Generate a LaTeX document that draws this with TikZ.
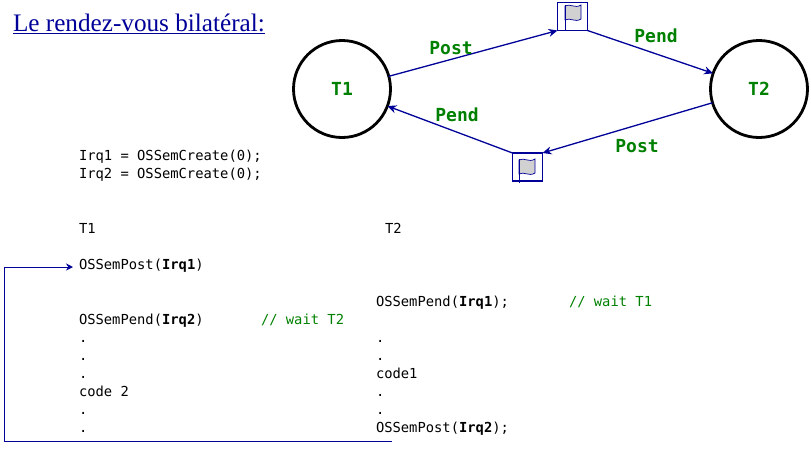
\documentclass[tikz,border=0pt]{standalone}
\usepackage{fontspec}
\setmainfont{Liberation Serif}
\setmonofont{DejaVu Sans Mono}
\usetikzlibrary{arrows.meta}
\definecolor{lnblue}{RGB}{0,0,153}
\definecolor{lblgreen}{RGB}{0,128,0}
\tikzset{
  x=1pt,y=-1pt,
  every node/.style={inner sep=0pt,outer sep=0pt},
  task/.style={circle,draw=black,line width=2.8pt,minimum size=97pt,font=\fontsize{18}{18}\ttfamily\bfseries,text=lblgreen},
  flagbox/.style={rectangle,draw=lnblue,line width=1.2pt,minimum width=30pt,minimum height=28pt},
  link/.style={draw=lnblue,line width=1.3pt,-{Stealth[length=9pt,width=8pt]}},
  plainlink/.style={draw=lnblue,line width=0.9pt},
  edgelbl/.style={font=\fontsize{18}{18}\ttfamily\bfseries,text=lblgreen},
  code/.style={anchor=base west,font=\fontsize{13.8}{14}\ttfamily,text=black},
  cmt/.style={anchor=base west,font=\fontsize{13.8}{14}\ttfamily,text=lblgreen},
  flagshape/.style={draw=lnblue,line width=0.7pt,fill=black!18},
  pole/.style={draw=lnblue,line width=1pt}
}
\newcommand{\flagat}[2]{%
  \draw[flagshape] (#1,#2+1)
    .. controls (#1+5,#2-2) and (#1+10,#2+4) .. (#1+16,#2)
    -- (#1+16,#2+14)
    .. controls (#1+10,#2+18) and (#1+5,#2+12) .. (#1,#2+15) -- cycle;
}
\begin{document}
\begin{tikzpicture}
\useasboundingbox (0,0) rectangle (811,464);
\node[anchor=base west,font=\fontsize{25.2}{25}\selectfont,text=lnblue] (title) at (13,31) {\underline{Le rendez-vous bilatéral:}};

\node[task] (T1) at (342,89) {T1};
\node[task] (T2) at (759,89) {T2};
\node[flagbox] (F1) at (572.5,16.5) {};
\node[flagbox] (F2) at (527.5,167) {};
\flagat{565}{5}
\draw[pole] (565,5) -- (565,30);
\flagat{519}{159}
\draw[pole] (519,159) -- (519,183);

\draw[link] (T1) -- (F1.south west);
\draw[link] (F1.south east) -- (T2);
\draw[link] (T2) -- (F2.north east);
\draw[link] (F2.north west) -- (T1);

\node[edgelbl] (lb1) at (451,48) {Post};
\node[edgelbl] (lb2) at (656,36) {Pend};
\node[edgelbl] (lb3) at (457,115) {Pend};
\node[edgelbl] (lb4) at (637,146) {Post};

\node[code] (c1) at (79,160) {Irq1 = OSSemCreate(0);};
\node[code] (c2) at (79,178) {Irq2 = OSSemCreate(0);};
\node[code] (t1) at (79,233) {T1};
\node[code] (t2) at (385,233) {T2};

\node[code] (p1) at (79,269) {OSSemPost(\textbf{Irq1})};
\node[code] (p2) at (79,324) {OSSemPend(\textbf{Irq2})};
\node[cmt] (cm1) at (261,324) {// wait T2};
\node[code] (d1) at (79,342) {.};
\node[code] (d2) at (79,360) {.};
\node[code] (d3) at (79,378) {.};
\node[code] (code2) at (79,396) {code 2};
\node[code] (d4) at (79,414) {.};
\node[code] (d5) at (79,432) {.};

\node[code] (q1) at (376,306) {OSSemPend(\textbf{Irq1});};
\node[cmt] (cm2) at (569,306) {// wait T1};
\node[code] (e1) at (376,342) {.};
\node[code] (e2) at (376,360) {.};
\node[code] (code1) at (376,378) {code1};
\node[code] (e3) at (376,396) {.};
\node[code] (e4) at (376,414) {.};
\node[code] (q2) at (376,432) {OSSemPost(\textbf{Irq2});};

\coordinate (fbstart) at (392,441);
\coordinate (fbcorner) at (4,441);
\coordinate (fbtop) at (4,267);
\coordinate (fbend) at (73,267);
\draw[plainlink,-{Stealth[length=7pt,width=7pt]}] (fbstart) -- (fbcorner) -- (fbtop) -- (fbend);
\end{tikzpicture}
\end{document}
